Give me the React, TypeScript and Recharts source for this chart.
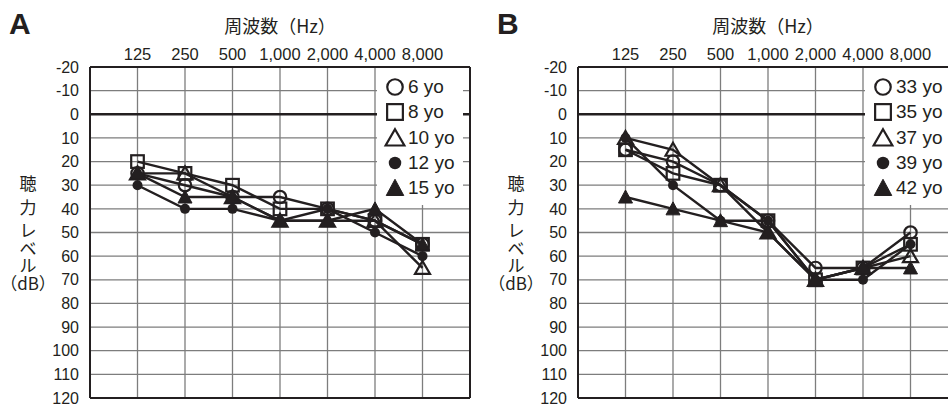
import { LineChart, Line, XAxis, YAxis, CartesianGrid, ReferenceLine } from 'recharts'

const FREQ_LABELS = ['125', '250', '500', '1,000', '2,000', '4,000', '8,000']
const FREQ_IDX = [0, 1, 2, 3, 4, 5, 6]
const DB_TICKS = [-20, -10, 0, 10, 20, 30, 40, 50, 60, 70, 80, 90, 100, 110, 120]

// panel A (children)
const AGES_A = ['6 yo', '8 yo', '10 yo', '12 yo', '15 yo']
const A_6 = [25, 30, 35, 35, 40, 45, 55]
const A_8 = [20, 25, 30, 40, 40, 45, 55]
const A_10 = [25, 25, 35, 45, 45, 45, 65]
const A_12 = [30, 40, 40, 45, 40, 50, 60]
const A_15 = [25, 35, 35, 45, 45, 40, 55]

// panel B (adults)
const AGES_B = ['33 yo', '35 yo', '37 yo', '39 yo', '42 yo']
const B_33 = [15, 20, 30, 45, 65, 65, 50]
const B_35 = [15, 25, 30, 45, 70, 65, 55]
const B_37 = [10, 15, 30, 50, 70, 65, 60]
const B_39 = [10, 30, 45, 45, 70, 70, 55]
const B_42 = [35, 40, 45, 50, 70, 65, 65]

const MARKERS = ['circle', 'square', 'triangle', 'dot', 'solidTriangle'] as const
type MarkerKind = (typeof MARKERS)[number]

const INK = '#231f20'
const GRID = '#7d7d7d'
const LATIN = '"Liberation Sans", Arial, Helvetica, sans-serif'
const CJK = '"Noto Sans CJK JP", "Noto Sans", sans-serif'

const CHART_W = 480
const CHART_H = 404
const PLOT_LEFT = 90

function Marker({ kind, cx, cy, scale = 1 }: { kind: MarkerKind; cx: number; cy: number; scale?: number }) {
  if (cx == null || cy == null) return null
  const sw = 2.2
  if (kind === 'circle') {
    return <circle cx={cx} cy={cy} r={6.2 * scale} fill="none" stroke={INK} strokeWidth={sw} />
  }
  if (kind === 'square') {
    const h = 6.3 * scale
    return <rect x={cx - h} y={cy - h} width={h * 2} height={h * 2} fill="none" stroke={INK} strokeWidth={sw} />
  }
  if (kind === 'dot') {
    return <circle cx={cx} cy={cy} r={5 * scale} fill={INK} />
  }
  const w = (kind === 'triangle' ? 7.5 : 7) * scale
  const top = cy - 7 * scale
  const bot = cy + 6 * scale
  return (
    <polygon
      points={`${cx},${top} ${cx + w},${bot} ${cx - w},${bot}`}
      fill={kind === 'triangle' ? 'none' : INK}
      stroke={INK}
      strokeWidth={kind === 'triangle' ? sw : 1}
      strokeLinejoin="miter"
    />
  )
}

function Panel({
  left,
  letter,
  ages,
  series,
}: {
  left: number
  letter: string
  ages: string[]
  series: number[][]
}) {
  const data = FREQ_IDX.map((i) => {
    const row: Record<string, number> = { idx: i }
    series.forEach((s, j) => {
      row[`s${j}`] = s[i]
    })
    return row
  })
  const plotCenter = PLOT_LEFT + (CHART_W - 10 - PLOT_LEFT) / 2
  const yLabel = [
    { t: '聴', y: 182 },
    { t: '力', y: 206 },
    { t: 'レ', y: 229 },
    { t: 'ベ', y: 247 },
    { t: 'ル', y: 264 },
  ]

  return (
    <div style={{ position: 'absolute', left, top: 0, width: CHART_W, height: CHART_H }}>
      <LineChart
        width={CHART_W}
        height={CHART_H}
        data={data}
        margin={{ top: 37, right: 10, bottom: 6, left: 0 }}
      >
        <CartesianGrid stroke={GRID} strokeWidth={1.3} />
        <XAxis
          type="number"
          dataKey="idx"
          orientation="top"
          domain={[-1, 7]}
          ticks={FREQ_IDX}
          interval={0}
          tickFormatter={(v: number) => FREQ_LABELS[v]}
          tickLine={false}
          tickSize={0}
          tickMargin={7}
          height={30}
          axisLine={{ stroke: INK, strokeWidth: 2 }}
          tick={{ fill: INK, fontSize: 16.5, fontFamily: LATIN }}
        />
        <YAxis
          type="number"
          domain={[-20, 120]}
          reversed
          ticks={DB_TICKS}
          interval={0}
          width={PLOT_LEFT}
          tickLine={false}
          tickSize={0}
          tickMargin={11}
          axisLine={{ stroke: INK, strokeWidth: 2 }}
          tick={{ fill: INK, fontSize: 16, fontFamily: LATIN }}
        />
        <ReferenceLine y={0} stroke={INK} strokeWidth={2.6} />
        <ReferenceLine y={120} stroke={INK} strokeWidth={2} />
        <ReferenceLine x={7} stroke={INK} strokeWidth={2} />
        {series.map((_, j) => (
          <Line
            key={j}
            type="linear"
            dataKey={`s${j}`}
            stroke={INK}
            strokeWidth={2.4}
            isAnimationActive={false}
            activeDot={false}
            dot={(p: any) => (
              <Marker key={`${j}-${p.index}`} kind={MARKERS[j]} cx={p.cx} cy={p.cy} />
            )}
          />
        ))}
      </LineChart>

      {/* legend box covers the grid in the upper right */}
      <div
        style={{
          position: 'absolute',
          left: PLOT_LEFT + 287,
          top: 68,
          width: 86,
          height: 137,
          background: '#fff',
        }}
      >
        {ages.map((a, i) => (
          <div
            key={a}
            style={{
              position: 'absolute',
              left: 0,
              top: 87 + 25.3 * i - 68 - 12,
              height: 24,
              width: 120,
              display: 'flex',
              alignItems: 'center',
            }}
          >
            <svg width={30} height={24} style={{ flex: 'none' }}>
              <Marker kind={MARKERS[i]} cx={18} cy={12} scale={1.25} />
            </svg>
            <span
              style={{
                fontFamily: LATIN,
                fontSize: 19,
                color: INK,
                marginLeft: 1,
                whiteSpace: 'nowrap',
              }}
            >
              {a}
            </span>
          </div>
        ))}
      </div>

      <div
        style={{
          position: 'absolute',
          left: letter === 'A' ? 9 - left : 9,
          top: 7,
          fontFamily: LATIN,
          fontWeight: 700,
          fontSize: 30,
          color: INK,
          lineHeight: '34px',
        }}
      >
        {letter}
      </div>

      <div
        style={{
          position: 'absolute',
          left: plotCenter - 80,
          width: 160,
          top: 13,
          textAlign: 'center',
          fontFamily: CJK,
          fontSize: 18,
          color: INK,
          lineHeight: '24px',
        }}
      >
        周波数（Hz）
      </div>

      {yLabel.map(({ t, y }) => (
        <div
          key={t}
          style={{
            position: 'absolute',
            left: PLOT_LEFT - 62 - 20,
            width: 40,
            top: y - 8.5,
            textAlign: 'center',
            fontFamily: CJK,
            fontSize: 17,
            color: INK,
            lineHeight: '17px',
          }}
        >
          {t}
        </div>
      ))}
      <div
        style={{
          position: 'absolute',
          left: PLOT_LEFT - 62 - 40,
          width: 80,
          top: 282 - 8.5,
          textAlign: 'center',
          fontFamily: CJK,
          fontSize: 17,
          color: INK,
          lineHeight: '17px',
        }}
      >
        （dB）
      </div>
    </div>
  )
}

export default function App() {
  return (
    <div
      style={{
        position: 'absolute',
        left: 0,
        top: 0,
        width: 948,
        height: 404,
        overflow: 'hidden',
        background: '#fff',
      }}
    >
      <Panel left={0} letter="A" ages={AGES_A} series={[A_6, A_8, A_10, A_12, A_15]} />
      <Panel left={488} letter="B" ages={AGES_B} series={[B_33, B_35, B_37, B_39, B_42]} />
    </div>
  )
}
